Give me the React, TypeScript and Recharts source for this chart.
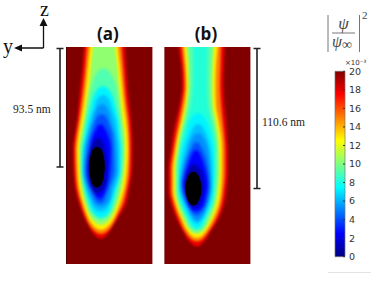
import React from "react";
import { ComposedChart, BarChart, Area, Bar, XAxis, YAxis } from "recharts";

type Row = [number, number, number];

// Panel (a): contour rows [z, left, right]
const aRed: Row[] = [[39,85,124.5],[47,84,125],[65,82.5,126],[85,80.5,127.5],[105,78.5,129.5],[120,77,131],[135,74.5,132],[150,73,132.5],[170,73.5,132],[190,75.5,129],[205,79.5,125.5],[215,83,120],[225,88,113.5],[232,92,109.5],[236,95.5,106],[238,98,103.4],[238.6,100.7,100.7]];
const aOrange: Row[] = [[39,88,121],[47,87,121.5],[65,85.5,123],[85,83.5,124.5],[105,81,126.5],[120,79,128.5],[135,76.5,129.5],[150,75,130],[170,75.5,129.5],[190,77.5,126.5],[205,81.5,122.5],[215,85,117.5],[225,89.5,112.5],[231,94.5,107.5],[233.5,98.2,103.6],[234,100.9,100.9]];
const aYellow: Row[] = [[39,91,117.5],[47,90,118],[65,88,120],[85,86,122],[105,83.5,124],[120,81,126],[135,78.5,127.5],[150,77,128],[170,77.5,127],[190,79.5,124],[205,83.5,119.5],[215,87,115.5],[222,90.5,111.5],[228,95.8,106],[229.6,98.6,103.2],[230,101,101]];
const aGreen: Row[] = [[39,94,114.5],[47,93,115],[65,91,117],[85,89,119],[105,86,121],[120,84,122.5],[135,81,124.5],[150,79.5,125],[170,80,124],[190,82,121],[205,86,116.5],[215,89.5,112.5],[221,93.7,108.3],[224.5,98.5,103.5],[225,101,101]];
const aSea: Row[] = [[68,103.5,103.5],[69,100.5,106.5],[72,97.5,109.5],[77,94.5,112.5],[85,92,115.5],[105,88,118.5],[120,85.5,120.5],[135,83,122],[150,81,123],[170,82,122],[190,84,118.5],[205,87.5,114.5],[215,93,109],[218,96,106],[219.6,98.8,103.2],[220,101,101]];
const aCyan: Row[] = [[86,103,103],[87,100,106],[90,97,109],[95,94,112],[105,91,115],[120,87.5,118.5],[135,85,120],[150,82.5,121.5],[170,81.5,121],[190,85,116],[205,89.5,112],[213,93,109],[216,96,106],[217.6,98.8,103.2],[218,101,101]];
const aLight: Row[] = [[95,103,103],[96,100,106],[100,97,109],[108,94.5,111.5],[120,90.5,115.5],[135,87,117.5],[150,83.8,119],[170,83,119],[190,86.5,114],[200,90.5,110.5],[208,94,107],[211,97,104],[212,100.5,100.5]];
const aAzure: Row[] = [[104,102,102],[105,99.5,104.5],[108,97,107],[113,94.5,109.5],[120,93,111],[135,88,115],[150,85,116.5],[170,84,117],[190,88,111.5],[200,92,110],[204.5,95,106],[206.6,98.5,102.5],[207,100.5,100.5]];
const aMid: Row[] = [[114,101.5,101.5],[115,99,104],[118,96.5,106.5],[125,93.5,109.5],[135,90.5,112.5],[150,87.5,113.5],[170,85.5,114],[185,88.5,110],[195,93,106],[202,97,103.5],[203.5,100,100]];
const aBlue: Row[] = [[124,100.5,100.5],[125,98.5,102.5],[128,96.5,104.5],[135,93,108],[150,89.5,111],[170,87,110],[185,90,107.5],[195,95,104],[198.5,98,101.5],[199,100,100]];
const aNavy: Row[] = [[138,98,98],[138.5,96,100],[141,94,102],[147,91,104.5],[165,87.8,107],[180,88.5,106.5],[188,91,104],[192,94,100.5],[194,97,97]];
const aBlack: Row[] = [[147,97,97],[147.5,95,99],[149,93,101],[153,91.2,102.8],[160,89.7,104.3],[167,89.2,104.8],[175,90,104],[182,91.5,102.5],[185.5,93.5,100.5],[187,95.5,98.5],[187.5,97,97]];

// Panel (b)
const bRed: Row[] = [[39,178,225],[47,178.7,224.7],[65,181,224],[85,182,223.5],[105,179.5,224.5],[120,176,226],[135,173,227],[150,171,228],[170,168.5,228],[190,168.5,226.5],[205,171.5,224],[220,177,218],[232,183.3,210.3],[240,188,205.6],[244,191.8,201.8],[246,194.5,199.1],[246.6,196.8,196.8]];
const bOrange: Row[] = [[39,181,221.5],[47,181.7,221],[65,183.5,220.5],[85,184.5,220],[105,182,221],[120,179,222.5],[135,176,224],[150,173.5,225],[170,171,225],[190,171,223.5],[205,174,221],[220,179.5,215.5],[232,185.3,208.3],[238,190,203.6],[241,194.2,199.4],[241.5,196.8,196.8]];
const bYellow: Row[] = [[39,183.5,218],[47,184,217.5],[65,185.5,216],[85,186.5,215.5],[105,184.5,216],[120,181.5,218.5],[135,178,221],[150,175.5,222],[170,173,222],[190,173,221],[205,176,218.5],[220,182,212.5],[230,186.8,206.8],[235,190.8,202.8],[237.6,194.4,199.2],[238,196.8,196.8]];
const bGreen: Row[] = [[39,186,214.5],[47,186.5,214],[65,188,213],[85,188.5,212.5],[105,186.5,213],[120,183.5,215.5],[135,180,218],[150,177.5,219],[170,175,219.5],[190,175,218],[205,178,215.5],[220,184,210],[228,188.3,205.3],[232,191.8,201.8],[233.6,194.6,199],[234,196.8,196.8]];
const bSea: Row[] = [[39,188.5,212],[47,189,211.5],[65,190,210.5],[85,190,210],[105,188,210.5],[120,185.5,213],[135,181.5,215.5],[150,179,217],[170,177,217],[190,177,216],[205,180,213],[218,186,207.5],[226,189.3,204.3],[229,192,201.6],[230.6,194.8,198.8],[231,196.8,196.8]];
const bTeal: Row[] = [[39,192.5,208],[47,193,207.5],[65,193.5,207],[85,193,207],[105,191,208],[120,187,211],[135,183,214],[150,180,215.5],[170,178,215.5],[190,178,214.5],[205,181,212],[218,187,206],[225,190.5,203],[228,192.5,201],[229.6,195,198.6],[230,196.8,196.8]];
const bCyan: Row[] = [[113,198,198],[114,195,201],[117,192,204],[122,189,207],[135,185.5,211],[150,181,214],[170,179,214.5],[190,179,213.5],[205,182,211],[218,188,205],[224,191.5,202],[227,194,199.6],[229,196.8,196.8]];
const bLight: Row[] = [[124,198,198],[125,195.5,200.5],[128,193,203],[135,189.5,206.5],[150,184.5,210.5],[165,181.5,212],[185,179.5,212.3],[200,182.5,210],[210,187,206.5],[218,191,203],[222,194,199.5],[224,197,197]];
const bAzure: Row[] = [[133,198,198],[134,195.5,200.5],[137,193,203],[143,190,206],[150,188,208],[165,183,210],[185,180.5,211],[200,184,209],[210,188.5,206],[217,192.5,202],[220.5,195,199],[221,197,197]];
const bMid: Row[] = [[142,196.5,196.5],[143,194.5,198.5],[146,192.5,200.5],[152,189.5,203.5],[165,185.5,207.5],[185,181.8,209.5],[200,185,207.5],[208,189.5,204],[214,193,200],[216,196.5,196.5]];
const bBlue: Row[] = [[150,196,196],[151,194,198],[154,192,200],[160,189.5,202.5],[172,185.5,206],[185,183,208],[197,186,206],[206,188.5,203.5],[210,192,200],[212,196,196]];
const bNavy: Row[] = [[164,194,194],[164.5,192,196],[167,190,198],[172,187.5,201.5],[185,184.3,204],[197,186,202.5],[204,189.5,199.5],[207,192,196.5],[208.5,194,194]];
const bBlack: Row[] = [[171.7,193.4,193.4],[172.2,191.4,195.4],[174,189.4,197.4],[178,187.4,199.4],[183,185.9,200.9],[188.5,185.3,201.5],[194,185.9,200.9],[199,187.4,199.4],[203,189.4,197.4],[205,191.4,195.4],[205.7,193.4,193.4]];

type Level = [string, Row[]];
const ringsA: Level[] = [["#e80000",aRed],["#ff8000",aOrange],["#ffee00",aYellow],["#90ff70",aGreen]];
const softA: Level[] = [["#50ffb0",aSea],["#00f4ff",aCyan],["#00c0ff",aLight],["#0090ff",aAzure],["#0050ff",aMid],["#0000ff",aBlue],["#0000a8",aNavy]];
const coreA: Level[] = [["#000000",aBlack]];
const ringsB: Level[] = [["#e80000",bRed],["#ff8000",bOrange],["#ffee00",bYellow],["#90ff70",bGreen]];
const softB: Level[] = [["#50ffb0",bSea],["#20ffd8",bTeal],["#00f4ff",bCyan],["#00c0ff",bLight],["#0090ff",bAzure],["#0050ff",bMid],["#0000ff",bBlue],["#0000a8",bNavy]];
const coreB: Level[] = [["#000000",bBlack]];

const scaleTicks = [0,2,4,6,8,10,12,14,16,18,20];
const scaleMax = [{ name: "scale", value: 20 }];
const scaleStops: [number, string][] = [[0,"#800000"],[0.125,"#ff0000"],[0.375,"#ffff00"],[0.625,"#00ffff"],[0.875,"#0000ff"],[1,"#000080"]];

const OVER = 8;
const TOP = 47;
const HEIGHT = 217;

function Layer({ left, width, levels, blur, background }: { left: number; width: number; levels: Level[]; blur: number; background?: string }) {
  return (
    <div style={{ position: "absolute", left: -OVER, top: -OVER, width: width + 2 * OVER, height: HEIGHT + 2 * OVER, background, filter: `blur(${blur}px)` }}>
      <ComposedChart layout="vertical" width={width + 2 * OVER} height={HEIGHT + 2 * OVER} margin={{ top: 0, right: 0, bottom: 0, left: 0 }}>
        <XAxis type="number" hide domain={[left - OVER, left + width + OVER]} allowDataOverflow />
        <YAxis type="number" hide dataKey="z" domain={[TOP - OVER, TOP + HEIGHT + OVER]} allowDataOverflow />
        {levels.map(([color, rows], i) => (
          <Area
            key={i}
            data={rows.map(([z, l, r]) => ({ z, band: [l, r] }))}
            dataKey="band"
            type="monotone"
            fill={color}
            fillOpacity={1}
            stroke="none"
            dot={false}
            activeDot={false}
            isAnimationActive={false}
          />
        ))}
      </ComposedChart>
    </div>
  );
}

function Panel({ left, width, rings, soft, core, edgeLeft }: { left: number; width: number; rings: Level[]; soft: Level[]; core: Level[]; edgeLeft: string }) {
  return (
    <div style={{ position: "absolute", left, top: TOP, width, height: HEIGHT, overflow: "hidden" }}>
      <Layer left={left} width={width} levels={rings} blur={0.8} background="#800000" />
      <Layer left={left} width={width} levels={soft} blur={1.7} />
      <Layer left={left} width={width} levels={core} blur={0.35} />
      <div style={{ position: "absolute", left: 0, top: 0, width: 1, height: HEIGHT, background: edgeLeft }} />
      <div style={{ position: "absolute", right: 0, top: 0, width: 1, height: HEIGHT, background: "#c99a9a" }} />
    </div>
  );
}

function ColorScale() {
  return (
    <div style={{ position: "absolute", left: 330, top: 60 }}>
      <BarChart width={44} height={210} data={scaleMax} margin={{ top: 11.3, right: 0, bottom: 13.3, left: 5 }} barCategoryGap={0}>
        <defs>
          <linearGradient id="jet" x1="0" y1="0" x2="0" y2="1">
            {scaleStops.map(([o, c]) => <stop key={o} offset={o} stopColor={c} />)}
          </linearGradient>
        </defs>
        <XAxis dataKey="name" hide />
        <YAxis orientation="right" width={29} domain={[0, 20]} ticks={scaleTicks} axisLine={false} tickSize={-2} tickMargin={6} tickLine={{ stroke: "#333" }} interval={0} tick={{ fontSize: 9.5, fill: "#333", fontFamily: "DejaVu Sans" }} />
        <Bar dataKey="value" fill="url(#jet)" stroke="#777" strokeWidth={0.7} isAnimationActive={false} />
      </BarChart>
    </div>
  );
}

const serif = "Liberation Serif";
const Dark = "#222";

export default function App() {
  return (
    <div style={{ position: "absolute", left: 0, top: 0, width: 374, height: 281, background: "#fff", overflow: "hidden" }}>
      <Panel left={66} width={87} rings={ringsA} soft={softA} core={coreA} edgeLeft="#4a0000" />
      <Panel left={164} width={87} rings={ringsB} soft={softB} core={coreB} edgeLeft="#a06060" />
      <ColorScale />
      <svg width={374} height={281} style={{ position: "absolute", left: 0, top: 0, pointerEvents: "none" }}>
        <text x={108} y={40} textAnchor="middle" fontFamily="Open Sans" fontWeight={700} fontSize={17} fill="#111">(a)</text>
        <text x={206} y={40} textAnchor="middle" fontFamily="Open Sans" fontWeight={700} fontSize={17} fill="#111">(b)</text>

        <text x={40} y={15.5} fontFamily={serif} fontSize={20} fill="#111">z</text>
        <text x={3} y={53} fontFamily={serif} fontSize={20} fill="#111">y</text>
        <path d="M43.5 48 V24 M43.5 48 H20" stroke="#111" strokeWidth={1.3} fill="none" />
        <path d="M43.5 18 L39.5 26 H47.5 Z M14 48 L22 44.5 V51.5 Z" fill="#111" />

        <path d="M60 48 V167 M56.5 48.5 H63.5 M56.5 167 H63.5" stroke={Dark} strokeWidth={1.6} fill="none" />
        <path d="M257 48 V188.5 M253.5 48.5 H260.5 M253.5 188.5 H260.5" stroke={Dark} strokeWidth={1.6} fill="none" />
        <text x={13} y={113} fontFamily={serif} fontSize={11.5} fill="#222">93.5 nm</text>
        <text x={262} y={126} fontFamily={serif} fontSize={11.5} fill="#222">110.6 nm</text>

        <path d="M328 15 V52 M359.5 15 V52 M332 33 H355" stroke="#666" strokeWidth={0.9} fill="none" />
        <text x={343.5} y={29} textAnchor="middle" fontFamily={serif} fontStyle="italic" fontSize={17} fill="#444">ψ</text>
        <text x={332} y={47} fontFamily={serif} fontSize={16} fill="#444"><tspan fontStyle="italic">ψ</tspan><tspan fontSize={14} dy={2}>∞</tspan></text>
        <text x={362} y={19} fontFamily={serif} fontSize={11} fill="#444">2</text>
        <text x={345} y={65} fontFamily="DejaVu Sans" fontSize={7} fill="#333">×10⁻³</text>
        <path d="M328 272.5 H371" stroke="#e2e2e2" strokeWidth={1} />
      </svg>
    </div>
  );
}
